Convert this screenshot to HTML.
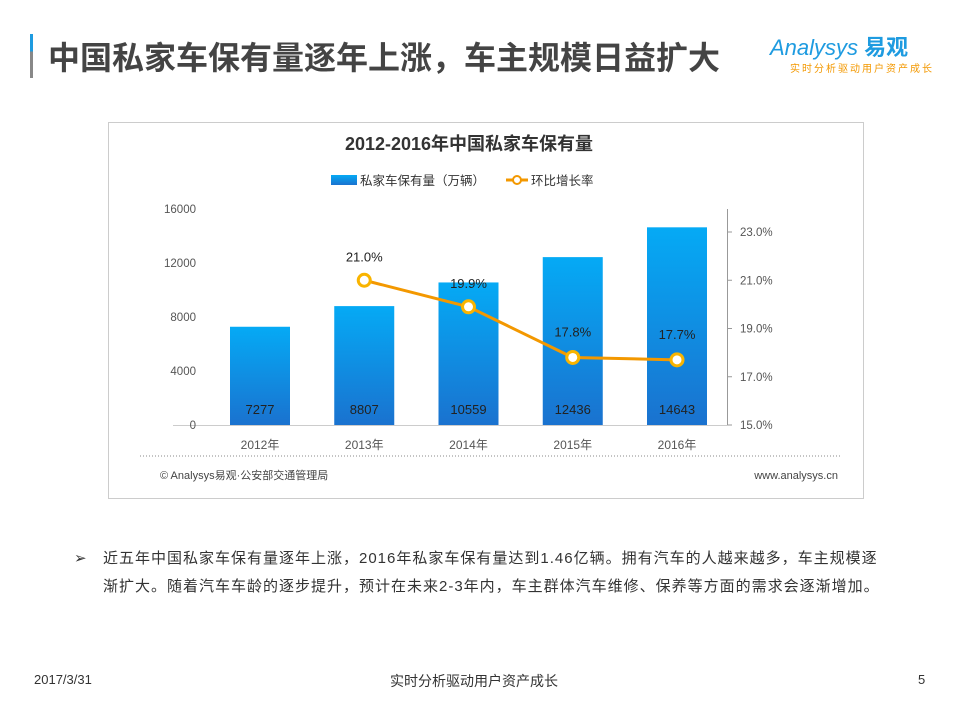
<!DOCTYPE html>
<html><head><meta charset="utf-8"><style>
body{margin:0;width:959px;height:719px;background:#fff;font-family:"Liberation Sans","Noto Sans CJK SC",sans-serif;position:relative;overflow:hidden}
.abs{position:absolute}
</style></head><body>
<div class="abs" style="left:30px;top:34px;width:3px;height:44px;background:linear-gradient(#1e9be0 0 40%,#888 40%)"></div>
<div class="abs" style="left:48px;top:33px;font-size:32px;font-weight:bold;color:#444;letter-spacing:0px">中国私家车保有量逐年上涨，车主规模日益扩大</div>
<div class="abs" style="left:770px;top:30px;color:#1e9be0;font-size:22px;font-style:italic">Analysys <b style="font-style:normal">易观</b></div>
<div class="abs" style="left:790px;top:60px;color:#f39800;font-size:10px;letter-spacing:2px">实时分析驱动用户资产成长</div>
<svg class="abs" style="left:0;top:0" width="959" height="719">
<defs><linearGradient id="g" x1="0" y1="0" x2="0" y2="1"><stop offset="0" stop-color="#05aaf5"/><stop offset="1" stop-color="#1a72cf"/></linearGradient></defs>
<rect x="108.5" y="122.5" width="755" height="376" fill="#fff" stroke="#ccc"/>
<text x="469" y="150" text-anchor="middle" font-size="18" font-weight="bold" fill="#333">2012-2016年中国私家车保有量</text>
<g id="legend">
<rect x="331" y="175" width="26" height="10" fill="url(#g)"/>
<text x="360" y="185" font-size="12.5" fill="#333">私家车保有量（万辆）</text>
<line x1="506" y1="180" x2="528" y2="180" stroke="#f39800" stroke-width="3"/>
<circle cx="517" cy="180" r="4" fill="#fff" stroke="#f39800" stroke-width="2"/>
<text x="531" y="185" font-size="12.5" fill="#333">环比增长率</text>
</g>
<line x1="173" y1="425.5" x2="727" y2="425.5" stroke="#ccc"/>
<line x1="727.5" y1="209" x2="727.5" y2="425" stroke="#999"/>
<line x1="140" y1="456" x2="840" y2="456" stroke="#888" stroke-dasharray="1,2"/>
<g id="marks"></g>
<text x="160" y="479" font-size="11" fill="#444">© Analysys易观·公安部交通管理局</text>
<text x="838" y="479" text-anchor="end" font-size="11" fill="#444">www.analysys.cn</text>
</svg>
<div class="abs" style="left:74px;top:545px;width:820px;font-size:15px;line-height:28px;color:#333"><span style="position:absolute;left:0">➢</span><div style="margin-left:29px;width:790px;letter-spacing:1px">近五年中国私家车保有量逐年上涨，2016年私家车保有量达到1.46亿辆。拥有汽车的人越来越多，车主规模逐渐扩大。随着汽车车龄的逐步提升，预计在未来2-3年内，车主群体汽车维修、保养等方面的需求会逐渐增加。</div></div>
<div class="abs" style="left:34px;top:672px;font-size:13px;color:#333">2017/3/31</div>
<div class="abs" style="left:390px;top:671px;font-size:14px;color:#333">实时分析驱动用户资产成长</div>
<div class="abs" style="left:918px;top:672px;font-size:13px;color:#333">5</div>
<script>
const categories=["2012年","2013年","2014年","2015年","2016年"];
const carStock=[7277,8807,10559,12436,14643];
const growthRate=[null,21.0,19.9,17.8,17.7];
const leftTicks=[0,4000,8000,12000,16000];
const rightTicks=[15,17,19,21,23];
const NS="http://www.w3.org/2000/svg";
const g=document.getElementById('marks');
const xC=i=>260+i*104.25;
const yL=v=>425-v*216/16000;
const yR=v=>425-(v-15)*193/8;
function mk(t,a,txt){const e=document.createElementNS(NS,t);for(const k in a)e.setAttribute(k,a[k]);if(txt!=null)e.textContent=txt;g.appendChild(e);return e;}
leftTicks.forEach(v=>{const e=mk('text',{x:196,y:yL(v)+4,'text-anchor':'end','font-size':11.5,fill:'#555'},v);

});
rightTicks.forEach(v=>{mk('line',{x1:727,x2:732,y1:yR(v),y2:yR(v),stroke:'#999'});const e=mk('text',{x:740,y:yR(v)+4,'font-size':11.5,fill:'#555'},v.toFixed(1)+'%');

});
categories.forEach((c,i)=>{const b=mk('rect',{x:xC(i)-30,y:yL(carStock[i]),width:60,height:425-yL(carStock[i]),fill:'url(#g)'});


const l=mk('text',{x:xC(i),y:414,'text-anchor':'middle','font-size':13,fill:'#222'},carStock[i]);


const x=mk('text',{x:xC(i),y:449,'text-anchor':'middle','font-size':12,fill:'#555'},c);

});
let pts=[];growthRate.forEach((v,i)=>{if(v!=null)pts.push([xC(i),yR(v)]);});
const pl=mk('polyline',{points:pts.map(p=>p.join(',')).join(' '),fill:'none',stroke:'#f39800','stroke-width':3});


growthRate.forEach((v,i)=>{if(v==null)return;const c=mk('circle',{cx:xC(i),cy:yR(v),r:6,fill:'#fff',stroke:'#f9b400','stroke-width':3});


const t=mk('text',{x:xC(i),y:yR(v)-(i>=3?21:19),'text-anchor':'middle','font-size':13,fill:'#222'},v.toFixed(1)+'%');

});
</script>
</body></html>
